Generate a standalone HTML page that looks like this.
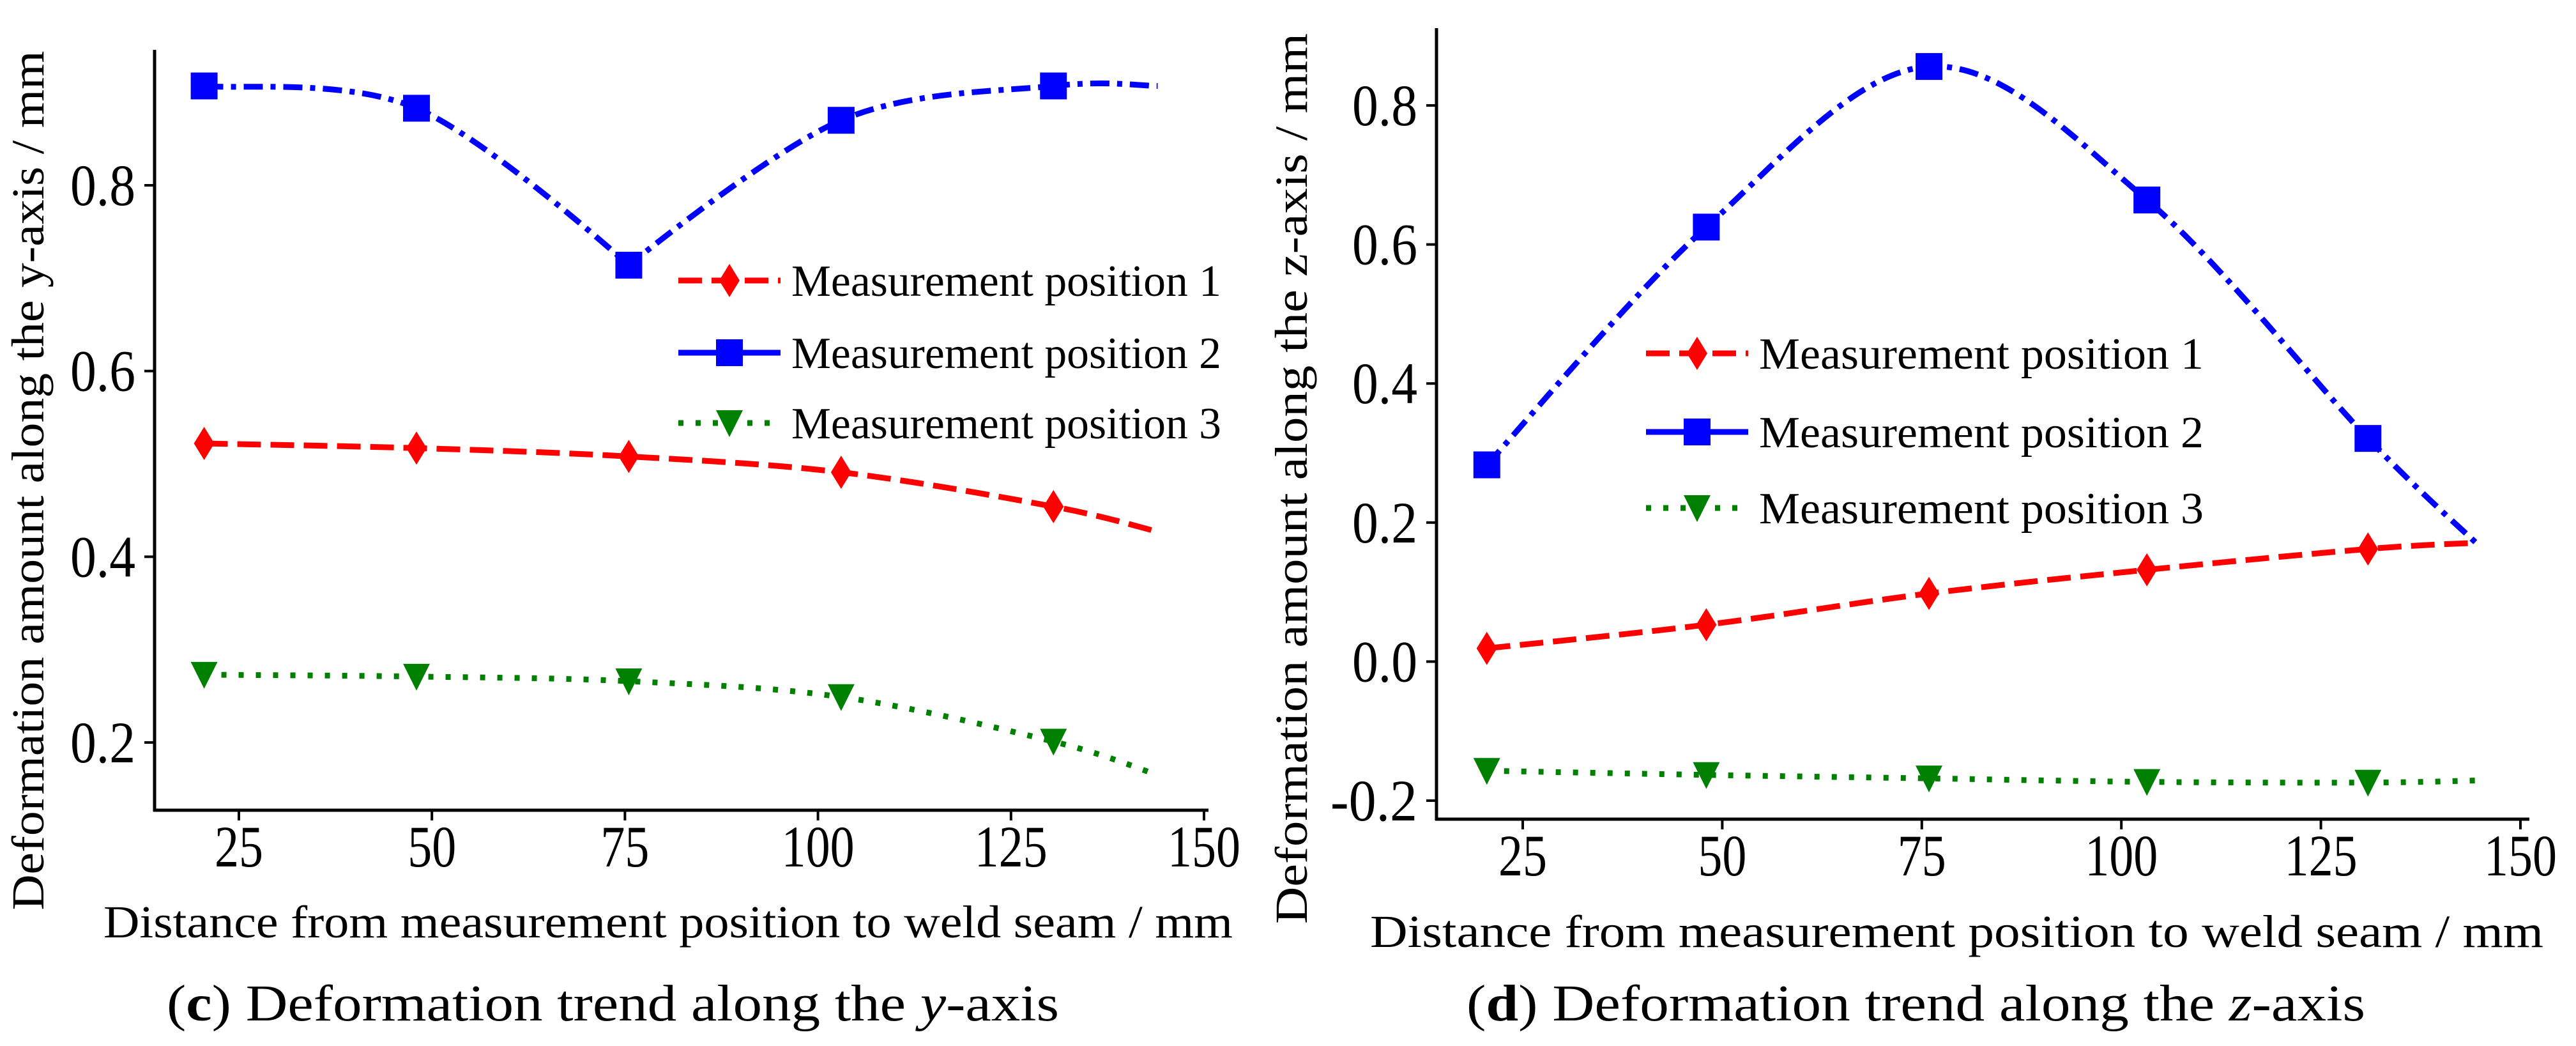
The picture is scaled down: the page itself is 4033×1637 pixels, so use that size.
<!DOCTYPE html>
<html><head><meta charset="utf-8"><style>
html,body{margin:0;padding:0;background:#fff;}
svg{display:block;}
text{font-family:"Liberation Serif","Times New Roman",serif;fill:#000;}
</style></head><body>
<svg id="fig" width="4033" height="1637" viewBox="0 0 4033 1637" font-family="Liberation Serif, serif" xmlns="http://www.w3.org/2000/svg"></svg>
<script>
// ---- Data ----
const xTickLabels = [25, 50, 75, 100, 125, 150];
const yTickLabelsC = [0.2, 0.4, 0.6, 0.8];
const yTickLabelsD = [-0.2, 0.0, 0.2, 0.4, 0.6, 0.8];
const seriesNames = ["Measurement position 1", "Measurement position 2", "Measurement position 3"];

const xC = [20.5, 48, 75.5, 103, 130.5, 144];
const cPos1 = [0.522, 0.517, 0.508, 0.491, 0.454, 0.427];
const cPos2 = [0.907, 0.883, 0.714, 0.870, 0.907, 0.907];
const cPos3 = [0.273, 0.271, 0.266, 0.249, 0.201, 0.165];

const xD = [20.5, 48, 75.9, 103.2, 130.9, 144.6];
const dPos1 = [0.019, 0.053, 0.098, 0.132, 0.162, 0.171];
const dPos2 = [0.283, 0.625, 0.856, 0.664, 0.321, 0.169];
const dPos3 = [-0.157, -0.163, -0.168, -0.173, -0.174, -0.171];

const NS = "http://www.w3.org/2000/svg";
const svg = document.getElementById('fig');
function mk(tag, attrs, parent){
  const e = document.createElementNS(NS, tag);
  for (const k in attrs) e.setAttribute(k, attrs[k]);
  (parent||svg).appendChild(e);
  return e;
}
// Catmull-Rom; tangent is zeroed at local extrema that are sharp (cusp flag)
function spline(pts, cusp){
  const tan = pts.map((p,i)=>{
    const p0 = pts[i-1]||p, p2 = pts[i+1]||p;
    if (cusp && i>0 && i<pts.length-1) {
      const a = p[1]-p0[1], b = p2[1]-p[1];
      if (a*b < 0 && Math.abs(a)>30 && Math.abs(b)>30) return [0,0];
    }
    return [(p2[0]-p0[0])/6, (p2[1]-p0[1])/6];
  });
  let d = "M" + pts[0][0] + "," + pts[0][1];
  for (let i=0;i<pts.length-1;i++){
    const p1=pts[i], p2=pts[i+1];
    const c1 = [p1[0]+tan[i][0], p1[1]+tan[i][1]];
    const c2 = [p2[0]-tan[i+1][0], p2[1]-tan[i+1][1]];
    d += " C"+c1[0]+","+c1[1]+" "+c2[0]+","+c2[1]+" "+p2[0]+","+p2[1];
  }
  return d;
}
const styles = [
  {color:"#ff0000", dash:"37,15", marker:"diamond"},
  {color:"#0000ff", dash:"30,12,8,12", marker:"square"},
  {color:"#008000", dash:"8,19", marker:"triangle"}
];
function marker(g, type, x, y, color){
  let m;
  if (type==="diamond") m = mk('polygon',{points:`${x},${y-26} ${x+16},${y} ${x},${y+26} ${x-16},${y}`, fill:color}, g);
  else if (type==="square") m = mk('rect',{x:x-21,y:y-21,width:42,height:42,fill:color}, g);
  else m = mk('polygon',{points:`${x-21},${y-20} ${x+21},${y-20} ${x},${y+22}`, fill:color}, g);
  
  
}

function chart(cfg){
  const g = mk('g', {});
  
  
  const sx = v => cfg.x25 + (v-25)*(cfg.x150-cfg.x25)/125;
  const sy = v => cfg.yA + (v-cfg.vA)*(cfg.yB-cfg.yA)/(cfg.vB-cfg.vA);
  const ya = mk('line',{x1:cfg.axX,y1:cfg.axTop,x2:cfg.axX,y2:cfg.axY+2,stroke:"#000","stroke-width":5},g);
   
  const xa = mk('line',{x1:cfg.axX-2,y1:cfg.axY,x2:cfg.axRight,y2:cfg.axY,stroke:"#000","stroke-width":5},g);
   
  xTickLabels.forEach(v=>{
    const x = sx(v);
    const t = mk('line',{x1:x,y1:cfg.axY,x2:x,y2:cfg.axY+16,stroke:"#000","stroke-width":4},g);
     
    const w = String(v).length*38;
    const l = mk('text',{x:x,y:cfg.axY+88,"font-size":92,"text-anchor":"middle",textLength:w,lengthAdjust:"spacingAndGlyphs"},g);
    l.textContent = v;
     
  });
  cfg.yTicks.forEach(v=>{
    const y = sy(v);
    const t = mk('line',{x1:cfg.axX-16,y1:y,x2:cfg.axX,y2:y,stroke:"#000","stroke-width":4},g);
     
    const s = v.toFixed(1);
    const l = mk('text',{x:cfg.axX-30,y:y+31,"font-size":92,"text-anchor":"end",textLength:s.length*34,lengthAdjust:"spacingAndGlyphs"},g);
    l.textContent = s;
     
  });
  cfg.series.forEach((vals,i)=>{
    const st = styles[i];
    const pts = vals.map((v,j)=>[sx(cfg.xs[j]), sy(v)]);
    const p = mk('path',{d:spline(pts, cfg.cusp && i===1),fill:"none",stroke:st.color,"stroke-width":9,"stroke-dasharray":st.dash},g);
     
    pts.slice(0,5).forEach(pt=>marker(g, st.marker, pt[0], pt[1], st.color));
  });
  seriesNames.forEach((n,i)=>{
    const st = styles[i]; const y = cfg.legY[i];
    const lg = mk('g',{},g);
     
    mk('line',{x1:cfg.legX,y1:y,x2:cfg.legX+160,y2:y,stroke:st.color,"stroke-width":9,"stroke-dasharray":i===1?"none":st.dash},lg);
    marker(lg, st.marker, cfg.legX+80, y, st.color);
    const t = mk('text',{x:cfg.legX+177,y:y+24,"font-size":70,textLength:cfg.legW,lengthAdjust:"spacingAndGlyphs"},lg);
    t.textContent = n;
  });
  const yt = mk('text',{x:0,y:0,"font-size":72,"text-anchor":"middle",textLength:cfg.yTitleLen,lengthAdjust:"spacingAndGlyphs",transform:`translate(${cfg.yTitleX},${cfg.yTitleY}) rotate(-90)`},g);
  yt.textContent = cfg.yTitle;
   
  const xt = mk('text',{x:cfg.xTitleX,y:cfg.xTitleY,"font-size":72,textLength:cfg.xTitleLen,lengthAdjust:"spacingAndGlyphs"},g);
  xt.textContent = "Distance from measurement position to weld seam / mm";
   
  const cp = mk('text',{x:cfg.capX,y:1597,"font-size":80,textLength:cfg.capLen,lengthAdjust:"spacingAndGlyphs"},g);
  cp.innerHTML = '(<tspan font-weight="bold">'+cfg.letter+'</tspan>) Deformation trend along the <tspan font-style="italic">'+cfg.axisLetter+'</tspan>-axis';
   
}

chart({name:"chart-c-y-axis", x25:374, x150:1885, yA:290, vA:0.8, yB:1162, vB:0.2,
  axX:242, axY:1268, axTop:78, axRight:1892, yTicks:yTickLabelsC, cusp:true,
  xs:xC, series:[cPos1,cPos2,cPos3], legX:1062, legY:[439,552,662], legW:673,
  yTitle:"Deformation amount along the y-axis / mm", yTitleX:68, yTitleY:752, yTitleLen:1345,
  xTitleX:162, xTitleY:1467, xTitleLen:1768, capX:261, capLen:1397, letter:"c", axisLetter:"y"});

chart({name:"chart-d-z-axis", x25:2384, x150:3946, yA:165, vA:0.8, yB:1253, vB:-0.2,
  axX:2249, axY:1282, axTop:44, axRight:3960, yTicks:yTickLabelsD, cusp:false,
  xs:xD, series:[dPos1,dPos2,dPos3], legX:2577, legY:[553,676,795], legW:696,
  yTitle:"Deformation amount along the z-axis / mm", yTitleX:2046, yTitleY:749, yTitleLen:1394,
  xTitleX:2145, xTitleY:1482, xTitleLen:1837, capX:2296, capLen:1407, letter:"d", axisLetter:"z"});
</script>
</body></html>
